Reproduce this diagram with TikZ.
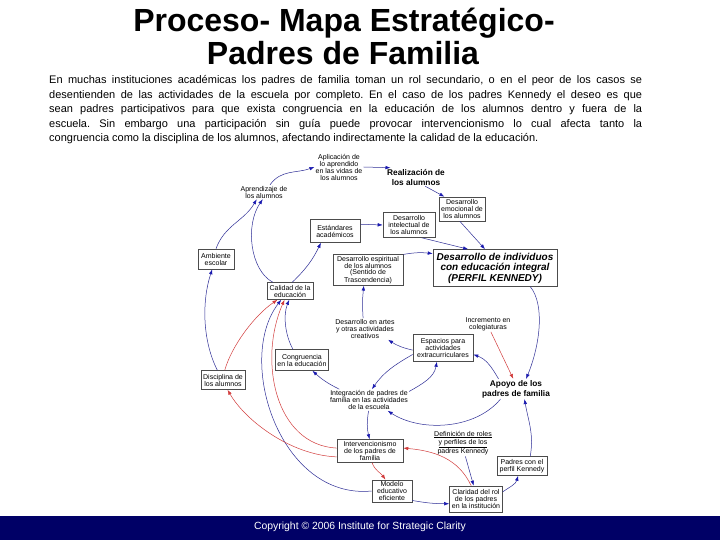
\documentclass[tikz,border=0pt]{standalone}
\usepackage{fontspec}
\setmainfont{Liberation Sans}
\usetikzlibrary{arrows.meta}
\definecolor{lblue}{RGB}{45,45,150}
\definecolor{ablue}{RGB}{25,25,175}
\definecolor{lred}{RGB}{210,60,60}
\definecolor{navybar}{RGB}{0,0,102}
\frenchspacing
\begin{document}
\begin{tikzpicture}[x=1pt,y=1pt,
 txt/.style={font=\fontsize{7}{7}\selectfont, align=center, inner sep=1pt},
 box/.style={txt, draw=black!70, line width=0.6pt, fill=white, inner xsep=2pt, inner ysep=1.5pt},
 bl/.style={draw=lblue, line width=0.5pt, -{Latex[length=5pt,width=3.6pt,color=ablue]}},
 rd/.style={draw=lred, line width=0.5pt, -{Latex[length=5pt,width=3.6pt,color=lred]}},
 bigb/.style={font=\fontsize{8.3}{10}\selectfont\bfseries, align=center, inner sep=1pt},
 para/.style={anchor=base west, inner sep=0pt, font=\fontsize{11}{13}\selectfont},
 ttl/.style={anchor=base, inner sep=0pt, font=\fontsize{32}{32}\selectfont\bfseries}]
\useasboundingbox (0,0) rectangle (720,-540);
\fill[white] (0,0) rectangle (720,-540);

% title
\node[ttl] (title1) at (344,-32) {Proceso- Mapa Estratégico-};
\node[ttl] (title2) at (343,-64.5) {Padres de Familia};

% paragraph
\node[para] (p1) at (49,-84) {\makebox[593pt][s]{En muchas instituciones académicas los padres de familia toman un rol secundario, o en el peor de los casos se}};
\node[para] (p2) at (49,-98.5) {\makebox[593pt][s]{desentienden de las actividades de la escuela por completo. En el caso de los padres Kennedy el deseo es que}};
\node[para] (p3) at (49,-113) {\makebox[593pt][s]{sean padres participativos para que exista congruencia en la educación de los alumnos dentro y fuera de la}};
\node[para] (p4) at (49,-127.5) {\makebox[593pt][s]{escuela. Sin embargo una participación sin guía puede provocar intervencionismo lo cual afecta tanto la}};
\node[para] (p5) at (49,-142) {congruencia como la disciplina de los alumnos, afectando indirectamente la calidad de la educación.};

% footer
\fill[navybar] (0,-516) rectangle (720,-540);
\node[white, font=\fontsize{10.4}{12}\selectfont] (copy) at (360,-527) {Copyright © 2006 Institute for Strategic Clarity};

% text nodes
\node[txt] (aplic) at (339,-167) {Aplicación de\\lo aprendido\\en las vidas de\\los alumnos};
\node[bigb] (realiz) at (416,-177) {Realización de\\los alumnos};
\node[txt] (aprend) at (264,-192) {Aprendizaje de\\los alumnos};
\node[txt] (artes) at (365,-329) {Desarrollo en artes\\y otras actividades\\creativos};
\node[txt] (incr) at (488,-324) {Incremento en\\colegiaturas};
\node[bigb] (apoyo) at (516,-389) {Apoyo de los\\padres de familia};
\node[txt] (integ) at (369,-400) {Integración de padres de\\familia en las actividades\\de la escuela};
\node[txt] (defin) at (463,-443) {\underline{Definición de roles}\\\underline{y perfiles de los}\\padres Kennedy};

% boxes
\node[box, minimum width=40pt, minimum height=24pt] (emoc) at (462,-209) {Desarrollo\\emocional de\\los alumnos};
\node[box, minimum width=52pt, minimum height=25pt] (intel) at (409,-225) {Desarrollo\\intelectual de\\los alumnos};
\node[box, minimum width=50pt, minimum height=23pt] (estand) at (335,-231) {Estándares\\académicos};
\node[box, minimum width=36pt, minimum height=20pt] (amb) at (216,-259) {Ambiente\\escolar};
\node[box, minimum width=70pt, minimum height=27pt, font=\fontsize{7}{6}\selectfont] (espir) at (368,-270) {Desarrollo espiritual\\de los alumnos\\(Sentido de\\Trascendencia)};
\node[box, minimum width=124pt, minimum height=37pt, font=\fontsize{10}{10.5}\selectfont\bfseries\itshape] (perfil) at (495,-268) {Desarrollo de individuos\\con educación integral\\(PERFIL KENNEDY)};
\node[box, minimum width=46pt, minimum height=17pt] (calidad) at (290,-291) {Calidad de la\\educación};
\node[box, minimum width=60pt, minimum height=27pt] (espac) at (443,-348) {Espacios para\\actividades\\extracurriculares};
\node[box, minimum width=50pt, minimum height=21pt] (cong) at (302,-360) {Congruencia\\en la educación};
\node[box, minimum width=43pt, minimum height=19pt] (disc) at (223,-380) {Disciplina de\\los alumnos};
\node[box, minimum width=66pt, minimum height=23pt] (interv) at (370,-451) {Intervencionismo\\de los padres de\\familia};
\node[box, minimum width=50pt, minimum height=19pt] (padres) at (522,-466) {Padres con el\\perfil Kennedy};
\node[box, minimum width=40pt, minimum height=21pt] (modelo) at (392,-491) {Modelo\\educativo\\eficiente};
\node[box, minimum width=53pt, minimum height=26pt] (clar) at (476,-499) {Claridad del rol\\de los padres\\en la institución};

% blue connectors
\draw[bl] (aprend.50) to[out=55,in=200] (aplic.west);
\draw[bl] (aplic.east) -- (realiz.160);
\draw[bl] (realiz.-45) -- (emoc.145);
\draw[bl] (emoc.-100) -- (perfil.118);
\draw[bl] (intel.-45) -- (perfil.145);
\draw[bl] (estand.15) -- (intel.west);
\draw[bl] (espir.north east) to[bend left=8] (perfil.167);
\draw[bl] (perfil.-28) .. controls (545,-305) and (540,-345) .. (apoyo.45);
\draw[bl] (padres.50) to[out=80,in=-80] (apoyo.-50);
\draw[bl] (clar.15) to[out=35,in=-105] (padres.-112);
\draw[bl] (modelo.-25) to[bend right=5] (clar.-170);
\draw[bl] (defin.-80) -- (clar.100);
\draw[bl] (modelo.west) .. controls (280,-500) and (235,-360) .. (calidad.-135);
\draw[bl] (disc.120) .. controls (202,-340) and (202,-300) .. (amb.-110);
\draw[bl] (amb.north) to[out=70,in=-120] (aprend.-135);
\draw[bl] (calidad.153) .. controls (250,-270) and (245,-225) .. (aprend.-100);
\draw[bl] (calidad.75) to[bend right=10] (estand.-140);
\draw[bl] (cong.130) .. controls (285,-335) and (283,-315) .. (calidad.-95);
\draw[bl] (integ.160) to[bend left=8] (cong.-46);
\draw[bl] (integ.-92) to[bend right=12] (interv.92);
\draw[bl] (integ.12) to[out=30,in=-100] (espac.-114);
\draw[bl] (espac.-168) to[out=-150,in=55] (integ.75);
\draw[bl] (espac.-176) to[bend left=10] (artes.-25);
\draw[bl] (artes.100) to[bend left=5] (espir.-105);
\draw[bl] (apoyo.150) to[out=120,in=-20] (espac.-12);
\draw[bl] (apoyo.-147) .. controls (475,-430) and (420,-432) .. (integ.-30);

% red connectors
\draw[rd] (incr.-70) -- (apoyo.105);
\draw[rd] (clar.110) to[out=115,in=-5] (interv.5);
\draw[rd] (interv.-80) to[out=-70,in=125] (modelo.120);
\draw[rd] (interv.175) .. controls (275,-445) and (258,-360) .. (calidad.-122);
\draw[rd] (interv.-170) .. controls (290,-455) and (245,-420) .. (disc.-65);
\draw[rd] (disc.80) .. controls (232,-345) and (255,-315) .. (calidad.-145);
\end{tikzpicture}
\end{document}
